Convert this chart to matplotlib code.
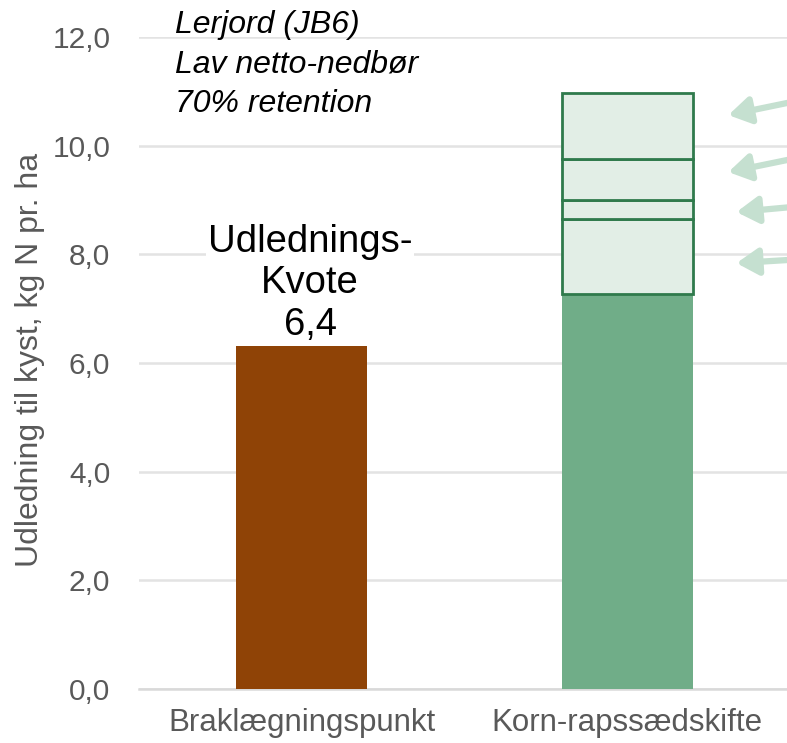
import matplotlib.pyplot as plt
import numpy as np

plt.rcParams['font.family'] = ['Liberation Sans', 'DejaVu Sans']

categories = ['Braklægningspunkt', 'Korn-rapssædskifte']
kvote = 6.32
base_rot = 7.27
# extra stacked segments on top of the crop rotation bar
extra_segments = [1.38, 0.35, 0.75, 1.22]
yticks = [0, 2, 4, 6, 8, 10, 12]
ytick_labels = ['0,0', '2,0', '4,0', '6,0', '8,0', '10,0', '12,0']
arrow_tip_x = [1.31, 1.31, 1.335, 1.335]
arrow_heads = [10.565, 9.516, 8.78, 7.84]
arrow_tails = [10.80, 9.75, 8.87, 7.90]

fig = plt.figure(figsize=(7.87, 7.43), dpi=100)
ax = fig.add_axes([0.1763, 0.0727, 0.8237, 0.8773])

x = np.arange(len(categories))
ax.bar(x[0], kvote, width=0.4, color='#8f4306', zorder=3)
ax.bar(x[1], base_rot, width=0.4, color='#70ad88', zorder=3)
bottom = base_rot
for seg in extra_segments:
    ax.bar(x[1], seg, width=0.4, bottom=bottom, color='#e2eee6',
           edgecolor='#2f7a4c', linewidth=2, zorder=3)
    bottom += seg

for xt, yh, yt in zip(arrow_tip_x, arrow_heads, arrow_tails):
    ax.annotate('', xy=(xt, yh), xytext=(1.5, yt),
                arrowprops=dict(arrowstyle='-|>,head_length=1.3,head_width=0.8',
                                color='#c5e0d0', lw=4.5, shrinkA=0, shrinkB=0),
                annotation_clip=False, zorder=2)

ax.set_xlim(-0.5, 1.49)
ax.set_ylim(0, 12)
ax.set_yticks(yticks)
ax.set_yticklabels(ytick_labels)
ax.set_xticks(x)
ax.set_xticklabels(categories)
ax.tick_params(axis='y', length=0, labelsize=21.5, colors='#595959', pad=20.5)
ax.tick_params(axis='x', length=0, labelsize=22.5, colors='#595959', pad=14)
ax.grid(axis='y', color='#e3e3e3', linewidth=1.8, zorder=0)
for s in ['top', 'right', 'left']:
    ax.spines[s].set_visible(False)
ax.spines['bottom'].set_color('#d9d9d9')
ax.spines['bottom'].set_linewidth(1.8)

ax.set_ylabel('Udledning til kyst, kg N pr. ha', fontsize=23, color='#595959')
ax.yaxis.set_label_coords(-0.145, 0.505)

ax.text(0.026, 6.37, 'Udlednings-\nKvote\n6,4', ha='center', va='bottom',
        fontsize=27.5, linespacing=1.2, color='black', zorder=2.5,
        bbox=dict(facecolor='white', edgecolor='none', pad=1))
ax.text(-0.39, 12.5, 'Lerjord (JB6)\nLav netto-nedbør\n70% retention',
        ha='left', va='top', fontsize=23, style='italic', linespacing=1.42,
        clip_on=False)

fig.savefig('out.png', dpi=100)
